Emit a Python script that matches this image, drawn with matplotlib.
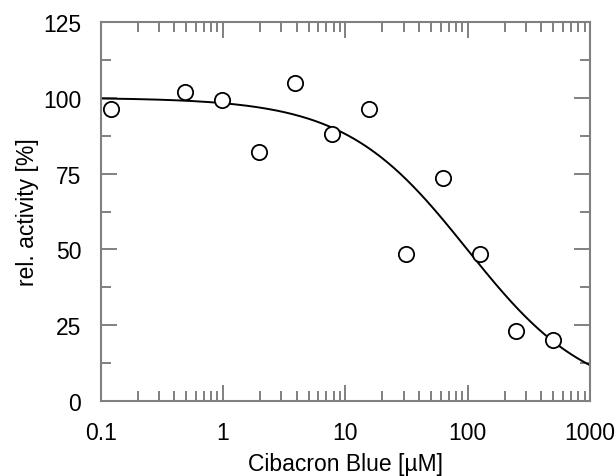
import numpy as np
import matplotlib.pyplot as plt
from matplotlib.ticker import LogLocator, MultipleLocator, FixedFormatter, FixedLocator

plt.rcParams['font.family'] = ['Liberation Sans', 'DejaVu Sans']

# measured points
conc = [0.122, 0.49, 0.98, 1.95, 3.9, 7.8, 15.6, 31.25, 62.5, 125, 250, 500]
activity = [96.2, 101.9, 99.2, 82.2, 104.8, 88.0, 96.2, 48.4, 73.7, 48.4, 23.0, 20.2]

# fitted dose-response parameters
top, bottom, ic50, hill = 100.0, 0.0, 99.0, 0.87

xticks = [0.1, 1, 10, 100, 1000]
xticklabels = ['0.1', '1', '10', '100', '1000']
yticks = [0, 25, 50, 75, 100, 125]

gray = '#808080'

fig = plt.figure(figsize=(6.16, 4.77), dpi=100)
ax = fig.add_axes([0.1635, 0.157, 0.7945, 0.795])

xfit = np.logspace(-1, 3, 300)
yfit = bottom + (top - bottom) / (1 + (xfit / ic50) ** hill)
ax.plot(xfit, yfit, color='black', lw=1.4, zorder=2)
ax.plot(conc, activity, 'o', ms=11, mfc='white', mec='black', mew=1.3, zorder=3)

ax.set_xscale('log')
ax.set_xlim(0.1, 1000)
ax.set_ylim(0, 125)

ax.xaxis.set_major_locator(FixedLocator(xticks))
ax.xaxis.set_major_formatter(FixedFormatter(xticklabels))
ax.xaxis.set_minor_locator(LogLocator(base=10, subs=np.arange(2, 10)))
ax.set_yticks(yticks)
ax.yaxis.set_minor_locator(MultipleLocator(12.5))

ax.tick_params(which='both', direction='in', top=True, right=True, color=gray,
               width=1.4, labelsize=16.5, pad=14)
ax.tick_params(which='major', length=11.5)
ax.tick_params(which='minor', length=7.5)
ax.tick_params(axis='x', which='minor', labelbottom=False)

for s in ax.spines.values():
    s.set_color(gray)
    s.set_linewidth(1.5)

ax.set_xlabel('Cibacron Blue [µM]', fontsize=16.5, labelpad=6)
ax.set_ylabel('rel. activity [%]', fontsize=16.5, labelpad=3)

fig.savefig('out.png', dpi=100)
